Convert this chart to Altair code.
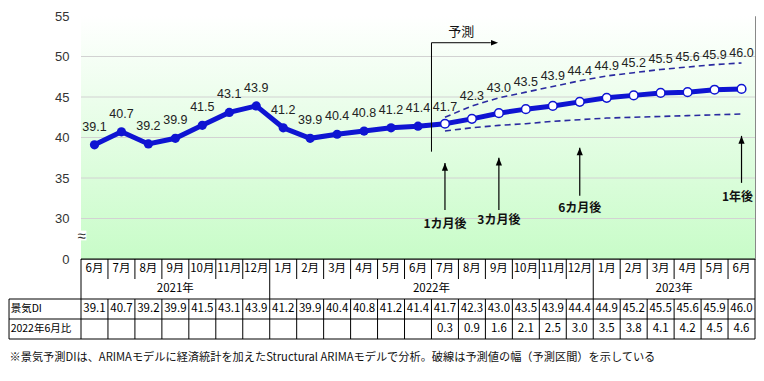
import altair as alt
import pandas as pd

# ---------------- data ----------------
months = ["6月", "7月", "8月", "9月", "10月", "11月", "12月",
          "1月", "2月", "3月", "4月", "5月", "6月", "7月", "8月", "9月", "10月", "11月", "12月",
          "1月", "2月", "3月", "4月", "5月", "6月"]
years = ["2021年", "2022年", "2023年"]
year_months = [7, 12, 6]
di = [39.1, 40.7, 39.2, 39.9, 41.5, 43.1, 43.9,
      41.2, 39.9, 40.4, 40.8, 41.2, 41.4, 41.7, 42.3, 43.0, 43.5, 43.9, 44.4,
      44.9, 45.2, 45.5, 45.6, 45.9, 46.0]
ratio = ["", "", "", "", "", "", "", "", "", "", "", "", "",
         "0.3", "0.9", "1.6", "2.1", "2.5", "3.0", "3.5", "3.8", "4.1", "4.2", "4.5", "4.6"]
forecast_start = 13
upper = [42.5, 43.9, 44.9, 45.6, 46.3, 47.0, 47.6, 48.0, 48.4, 48.7, 49.0, 49.2]
lower = [40.8, 41.2, 41.5, 41.7, 42.0, 42.2, 42.4, 42.5, 42.6, 42.7, 42.8, 42.9]
y_ticks = [25, 30, 35, 40, 45, 50, 55]
grid_values = [30, 35, 40, 45, 50]
row_labels = ["景気DI", "2022年6月比"]
footnote = "※景気予測DIは、ARIMAモデルに経済統計を加えたStructural ARIMAモデルで分析。破線は予測値の幅（予測区間）を示している"

up_arrows = ["1カ月後", "3カ月後", "6カ月後", "1年後"]
up_x = [13.5, 15.5, 18.5, 24.5]
up_bottom = [31.05, 31.05, 32.8, 34.4]
up_top = [36.85, 37.5, 38.75, 40.2]
up_text_x = [13.5, 15.5, 18.5, 24.35]
up_text_y = [29.3, 29.8, 31.25, 32.65]

N = len(months)
LABEL_COL = -2.67

BLUE = "#0f14d2"
JP = "Noto Sans CJK JP"
LAT = "Liberation Sans"

# ---------------- frames ----------------
df = pd.DataFrame({
    "x": [i + 0.5 for i in range(N)],
    "v": di,
    "kind": ["実績" if i < forecast_start else "予測" for i in range(N)],
})
df["lab"] = df["v"].map(lambda v: f"{v:.1f}")
df["ly"] = [di[i] if i < forecast_start else upper[i - forecast_start] for i in range(N)]

band_rows = []
for k in range(len(upper)):
    band_rows.append({"x": forecast_start + k + 0.5, "v": upper[k], "b": "upper"})
    band_rows.append({"x": forecast_start + k + 0.5, "v": lower[k], "b": "lower"})
band = pd.DataFrame(band_rows)

xs = alt.Scale(domain=[0, N], nice=False, zero=False)
ys = alt.Scale(domain=[25, 55], nice=False, zero=False)
yaxis = alt.Axis(values=y_ticks, title=None, grid=False, ticks=False,
                 labelExpr="datum.value == 25 ? '0' : datum.label",
                 labelFont=LAT, labelFontSize=13, labelColor="#333333",
                 labelPadding=12, domainColor="#000000")


def X(f):
    return alt.X(f, type="quantitative", scale=xs, axis=None)


def Y(f):
    return alt.Y(f, type="quantitative", scale=ys, axis=yaxis)


bg = alt.Chart(pd.DataFrame({"a": [0], "b": [N], "c": [25], "d": [55]})).mark_rect(
    color=alt.LinearGradient(gradient="linear",
                             stops=[alt.GradientStop(color="#ffffff", offset=0),
                                    alt.GradientStop(color="#c8fcc8", offset=1)],
                             x1=0, x2=0, y1=0, y2=1)
).encode(x=X("a"), x2="b", y=Y("c"), y2="d")

grid = alt.Chart(pd.DataFrame({"g": grid_values, "a": 0, "b": N})).mark_rule(
    color="#d2d2d2", strokeWidth=1
).encode(x=X("a"), x2="b", y=Y("g"))

brk_bg = alt.Chart(pd.DataFrame({"a": [-0.2], "b": [0.2], "c": [27.3], "d": [28.5]})).mark_rect(
    color="white").encode(x=X("a"), x2="b", y=Y("c"), y2="d")
brk = alt.Chart(pd.DataFrame({"a": [0.02], "c": [27.9], "t": ["≈"]})).mark_text(
    fontSize=15, color="#333333", font=LAT).encode(x=X("a"), y=Y("c"), text="t:N")

bands = alt.Chart(band).mark_line(color="#2a2aa0", strokeWidth=1.6, strokeDash=[6, 4]).encode(
    x=X("x"), y=Y("v"), detail="b:N")

line = alt.Chart(df).mark_line(color=BLUE, strokeWidth=5).encode(x=X("x"), y=Y("v"))
pts_a = alt.Chart(df[df["kind"] == "実績"]).mark_point(
    filled=True, color=BLUE, size=85, opacity=1).encode(x=X("x"), y=Y("v"))
pts_f = alt.Chart(df[df["kind"] == "予測"]).mark_point(
    filled=True, fill="white", stroke=BLUE, strokeWidth=1.5, size=75, opacity=1
).encode(x=X("x"), y=Y("v"))

lab_a = alt.Chart(df[df["kind"] == "実績"]).mark_text(
    font=LAT, fontSize=12.5, color="#222222", dy=-18).encode(x=X("x"), y=Y("ly"), text="lab:N")
lab_f = alt.Chart(df[df["kind"] == "予測"]).mark_text(
    font=LAT, fontSize=12.5, color="#222222", dy=-10).encode(x=X("x"), y=Y("ly"), text="lab:N")

# 予測 arrow
pred = pd.DataFrame({"x": [13.0], "x2": [15.2], "y0": [38.25], "y1": [51.7],
                     "tip": [15.47], "tx": [14.1], "ty": [53.0], "t": ["予測"]})
pred_v = alt.Chart(pred).mark_rule(color="black", strokeWidth=1).encode(x=X("x"), y=Y("y0"), y2="y1")
pred_h = alt.Chart(pred).mark_rule(color="black", strokeWidth=1).encode(x=X("x"), x2="x2", y=Y("y1"))
pred_head = alt.Chart(pred).mark_point(
    shape="M0,0 L-1,-0.4 L-1,0.4 Z", filled=True, color="black", size=200, opacity=1
).encode(x=X("tip"), y=Y("y1"))
pred_t = alt.Chart(pred).mark_text(font=JP, fontSize=13, color="#111111").encode(
    x=X("tx"), y=Y("ty"), text="t:N")

ups = pd.DataFrame({"x": up_x, "y0": up_bottom, "y1": up_top, "t": up_arrows,
                    "tx": up_text_x, "ty": up_text_y})
up_rule = alt.Chart(ups).mark_rule(color="black", strokeWidth=1.2).encode(
    x=X("x"), y=Y("y0"), y2="y1")
up_head = alt.Chart(ups).mark_point(
    shape="M0,0 L-0.4,1 L0.4,1 Z", filled=True, color="black", size=240, opacity=1
).encode(x=X("x"), y=Y("y1"))
up_t = alt.Chart(ups).mark_text(font=JP, fontSize=12, fontWeight="bold", color="#111111").encode(
    x=X("tx"), y=Y("ty"), text="t:N")

main = alt.layer(bg, grid, bands, line, pts_a, pts_f, lab_a, lab_f,
                 pred_v, pred_h, pred_head, pred_t, up_rule, up_head, up_t, brk_bg, brk)

# ---------------- table ----------------
ts = alt.Scale(domain=[0, 5], range=[243, 343], nice=False, zero=False)


def TY(f):
    return alt.Y(f, type="quantitative", scale=ts, axis=None)


bounds = [0]
for m in year_months:
    bounds.append(bounds[-1] + m)
segs = [{"x": 0, "x2": N, "y": 0, "y2": 0}]
for r in [2, 3, 4]:
    segs.append({"x": LABEL_COL, "x2": N, "y": r, "y2": r})
segs.append({"x": LABEL_COL, "x2": LABEL_COL, "y": 2, "y2": 4})
for k in range(N + 1):
    if k in bounds:
        segs.append({"x": k, "x2": k, "y": 0, "y2": 4})
    else:
        segs.append({"x": k, "x2": k, "y": 0, "y2": 1})
        segs.append({"x": k, "x2": k, "y": 2, "y2": 4})
seg_df = pd.DataFrame(segs)
t_lines = alt.Chart(seg_df).mark_rule(color="black", strokeWidth=1).encode(
    x=X("x"), x2="x2", y=TY("y"), y2="y2")

cells = pd.DataFrame({
    "x": [i + 0.5 for i in range(N)],
    "m": months,
    "d": [f"{v:.1f}" for v in di],
    "r": ratio,
    "y_m": 0.5, "y_d": 2.5, "y_r": 3.5,
})
t_m = alt.Chart(cells).mark_text(font=JP, fontSize=11.5, color="black").encode(
    x=X("x"), y=TY("y_m"), text="m:N")
t_d = alt.Chart(cells).mark_text(font=JP, fontSize=11.5, color="black").encode(
    x=X("x"), y=TY("y_d"), text="d:N")
t_r = alt.Chart(cells).mark_text(font=JP, fontSize=11.5, color="black").encode(
    x=X("x"), y=TY("y_r"), text="r:N")

ydf = pd.DataFrame({"x": [(bounds[i] + bounds[i + 1]) / 2 for i in range(len(years))],
                    "t": years, "y": 1.5})
t_y = alt.Chart(ydf).mark_text(font=JP, fontSize=11.5, color="black").encode(
    x=X("x"), y=TY("y"), text="t:N")

rdf = pd.DataFrame({"x": LABEL_COL + 0.06, "t": row_labels, "y": [2.5, 3.5]})
t_rl = alt.Chart(rdf).mark_text(font=JP, fontSize=10.5, color="black", align="left").encode(
    x=X("x"), y=TY("y"), text="t:N")

fdf = pd.DataFrame({"x": [LABEL_COL + 0.02], "t": [footnote], "y": [4.97]})
t_fn = alt.Chart(fdf).mark_text(font=JP, fontSize=11.2, color="#111111", align="left").encode(
    x=X("x"), y=TY("y"), text="t:N")

table = alt.layer(t_lines, t_m, t_d, t_r, t_y, t_rl, t_fn)

chart = alt.layer(main, table).resolve_scale(y="independent").properties(
    width=674, height=243,
    padding={"left": 0, "top": 2, "right": 0, "bottom": 0},
).configure_view(stroke="#888888", strokeWidth=1)

chart.save("out.html", embed_options={"renderer": "svg", "actions": False})
